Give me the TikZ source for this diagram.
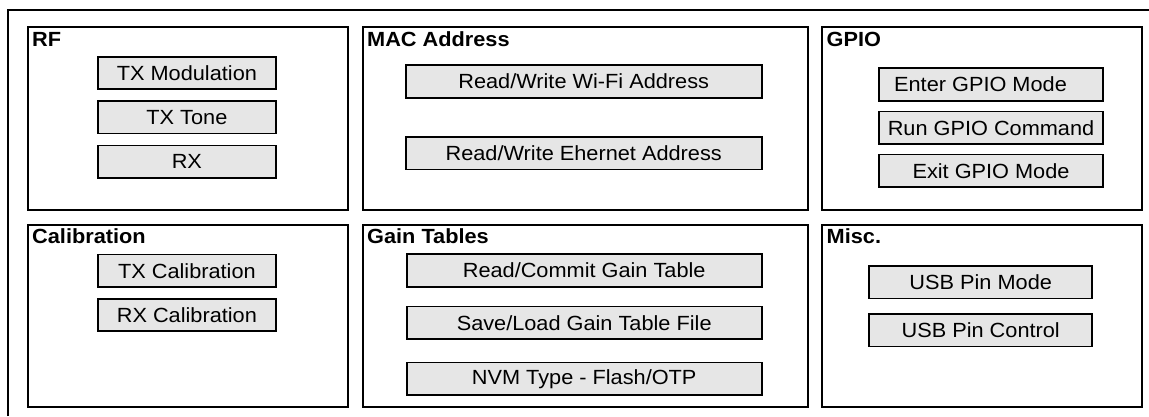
\documentclass[tikz,border=0pt]{standalone}
\usepackage{fontspec}
\setmainfont{Liberation Sans}[FakeStretch=1.06]
\definecolor{itemgray}{HTML}{E6E6E6}
\begin{document}
\begin{tikzpicture}[x=1pt,y=-1pt,
  font=\fontsize{20.5}{23}\selectfont,
  frame/.style={draw=black,line width=1.6pt},
  group/.style={draw=black,line width=2pt,anchor=north west,inner sep=0pt,
    minimum width=#1,minimum height=182.5pt},
  title/.style={anchor=base west,inner sep=0pt,font=\fontsize{20.5}{23}\selectfont\bfseries},
  item/.style={draw=black,fill=itemgray,line width=1.8pt,inner sep=0pt,
    minimum width=#1,minimum height=32.5pt}]
\useasboundingbox (0,0) rectangle (1149,416);
% outer frame (partly beyond the picture)
\coordinate (fb) at (8,416);
\coordinate (fc) at (8,10);
\coordinate (fr) at (1149,10);
\draw[frame] (fb) -- (fc) -- (fr);
% groups
\node[group=320pt] (rf) at (27,26) {};
\node[group=445pt] (mac) at (362,26) {};
\node[group=319.5pt] (gpio) at (821,26) {};
\node[group=320pt] (cal) at (27,223.5) {};
\node[group=444.5pt] (gain) at (362,223.5) {};
\node[group=320pt] (misc) at (821,223.5) {};
% titles
\node[title] (trf) at (32,46.3) {RF};
\node[title] (tmac) at (367,46.3) {MAC Address};
\node[title] (tgpio) at (826.5,46.3) {GPIO};
\node[title] (tcal) at (32,243.5) {Calibration};
\node[title] (tgain) at (367,243.5) {Gain Tables};
\node[title] (tmisc) at (826.5,243.5) {Misc.};
% RF
\node[item=178.3pt] (txmod) at (186.9,73) {TX Modulation};
\node[item=178.3pt] (txtone) at (186.9,117.2) {TX Tone};
\node[item=178.3pt] (rx) at (186.9,161.7) {RX};
% MAC
\node[item=356pt] (wifi) at (583.7,81.5) {Read/Write Wi-Fi Address};
\node[item=356pt] (eth) at (583.7,153.3) {Read/Write Ehernet Address};
% GPIO
\node[item=223.4pt] (enter) at (991,84.5) {Enter GPIO Mode\kern21pt};
\node[item=223.4pt] (run) at (991,127.8) {Run GPIO Command};
\node[item=223.4pt] (exit) at (991,170.8) {Exit GPIO Mode};
% Calibration
\node[item=178.3pt] (txcal) at (186.9,270.8) {TX Calibration};
\node[item=178.3pt] (rxcal) at (186.9,315) {RX Calibration};
% Gain tables
\node[item=355pt] (commit) at (584.2,270.5) {Read/Commit Gain Table};
\node[item=355pt] (save) at (584.2,322.8) {Save/Load Gain Table File};
\node[item=355pt] (nvm) at (584.2,378.8) {NVM Type - Flash/OTP};
% Misc
\node[item=223.3pt] (usbmode) at (980.7,282.2) {USB Pin Mode};
\node[item=223.3pt] (usbctl) at (980.7,330.3) {USB Pin Control};
\end{tikzpicture}
\end{document}
